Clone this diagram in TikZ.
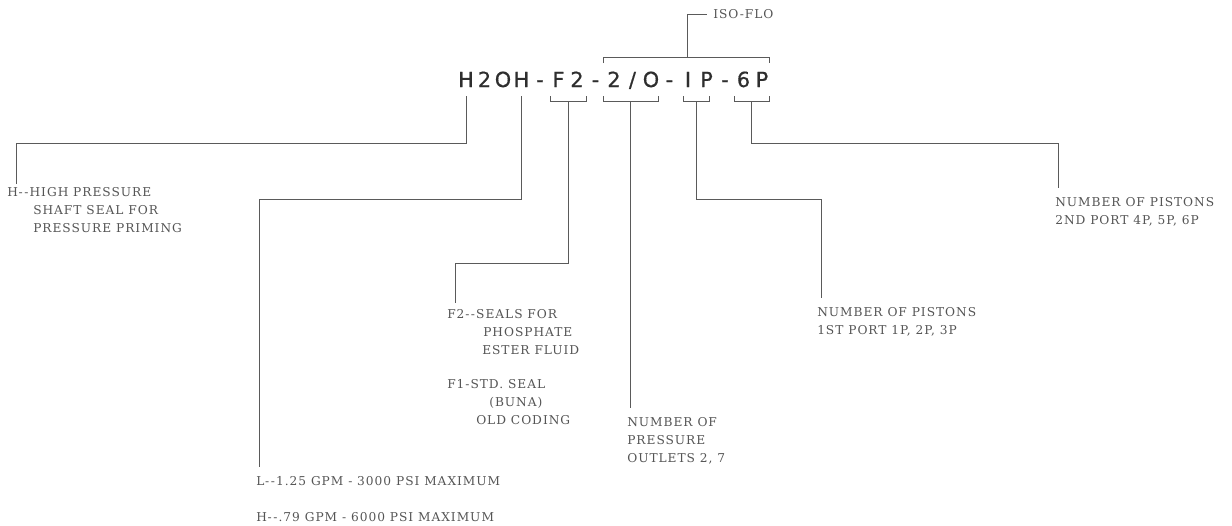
\documentclass[tikz,border=0pt]{standalone}
\usepackage{fontspec}
\newfontfamily\lblfont{DejaVu Serif}[LetterSpace=8]
\newfontfamily\codefont{DejaVu Sans}[FakeBold=0.7]
\definecolor{ink}{HTML}{555555}
\definecolor{lineink}{HTML}{5A5A5A}
\definecolor{codeink}{HTML}{2E2E2E}
\newcommand\cc[1]{\makebox[13.875pt]{#1}}
\newcommand\dd{\hspace{0.6pt}-\hspace{1.2pt}-\hspace{0.8pt}}
\begin{document}
\begin{tikzpicture}[x=0.75pt,y=-0.75pt,
  lbl/.style={font=\lblfont\fontsize{9.15}{13.5}\selectfont, text=ink, align=left, anchor=north west, inner sep=0pt},
  codestyle/.style={font=\codefont\fontsize{15.6}{18}\selectfont, text=codeink, anchor=base, inner sep=0pt},
  leader/.style={draw=lineink, line width=0.55pt}]
\fill[white] (0,0) rectangle (1232,525);
\useasboundingbox (0,0) rectangle (1232,525);

% main code
\node[codestyle] (code) at (614,87) {\cc{H}\cc{2}\cc{O}\cc{H}\cc{-}\cc{F}\cc{2}\cc{-}\cc{2}\cc{/}\cc{O}\cc{-}\cc{I}\cc{P}\cc{-}\cc{6}\cc{P}};

% bracket coordinates
\coordinate (bH1) at (466,96);
\coordinate (bH2) at (521,96);
\coordinate (bF2) at (568,101);
\coordinate (bSO) at (630,101);
\coordinate (bIP) at (696,101);
\coordinate (b6P) at (751,101);
\coordinate (bISO) at (687,57);

% brackets
\draw[leader] (550,96) -- (550,101) -- (586,101) -- (586,96);
\draw[leader] (603,96) -- (603,101) -- (658,101) -- (658,96);
\draw[leader] (683,96) -- (683,101) -- (709,101) -- (709,96);
\draw[leader] (734,96) -- (734,101) -- (769,101) -- (769,96);
\draw[leader] (603,63) -- (603,57) -- (769,57) -- (769,63);

% labels
\node[lbl, anchor=west] (iso) at (713,14) {ISO-FLO};
\node[lbl] (hlbl) at (7,187) {H\dd HIGH PRESSURE\\\hspace*{19.5pt}SHAFT SEAL FOR\\\hspace*{19.5pt}PRESSURE PRIMING};
\node[lbl] (llbl) at (256,476) {L\dd 1.25 GPM - 3000 PSI MAXIMUM\\[13.5pt]H\dd .79 GPM - 6000 PSI MAXIMUM};
\node[lbl] (f2lbl) at (447,309) {F2\dd SEALS FOR\\\hspace*{27pt}PHOSPHATE\\\hspace*{26.25pt}ESTER FLUID\\[12pt]F1-STD. SEAL\\\hspace*{31.5pt}(BUNA)\\\hspace*{21.75pt}OLD CODING};
\node[lbl] (olbl) at (627,417) {NUMBER OF\\PRESSURE\\OUTLETS 2, 7};
\node[lbl] (iplbl) at (817,307) {NUMBER OF PISTONS\\1ST PORT 1P, 2P, 3P};
\node[lbl] (p6lbl) at (1055,197) {NUMBER OF PISTONS\\2ND PORT 4P, 5P, 6P};

% turn points
\coordinate (tH1) at (16,143);
\coordinate (tH2) at (259,199);
\coordinate (tF2) at (455,263);
\coordinate (tIP) at (821,199);
\coordinate (t6P) at (1058,143);

% connectors
\draw[leader] (bISO) |- ([xshift=-4.5pt]iso.west);
\draw[leader] (bH1) |- (tH1) -- ([yshift=2pt]tH1 |- hlbl.north);
\draw[leader] (bH2) |- (tH2) -- ([yshift=7pt]tH2 |- llbl.north);
\draw[leader] (bF2) |- (tF2) -- ([yshift=4.5pt]tF2 |- f2lbl.north);
\draw[leader] (bSO) -- ([yshift=6.5pt]bSO |- olbl.north);
\draw[leader] (bIP) |- (tIP) -- ([yshift=7pt]tIP |- iplbl.north);
\draw[leader] (b6P) |- (t6P) -- ([yshift=6.5pt]t6P |- p6lbl.north);
\end{tikzpicture}
\end{document}
